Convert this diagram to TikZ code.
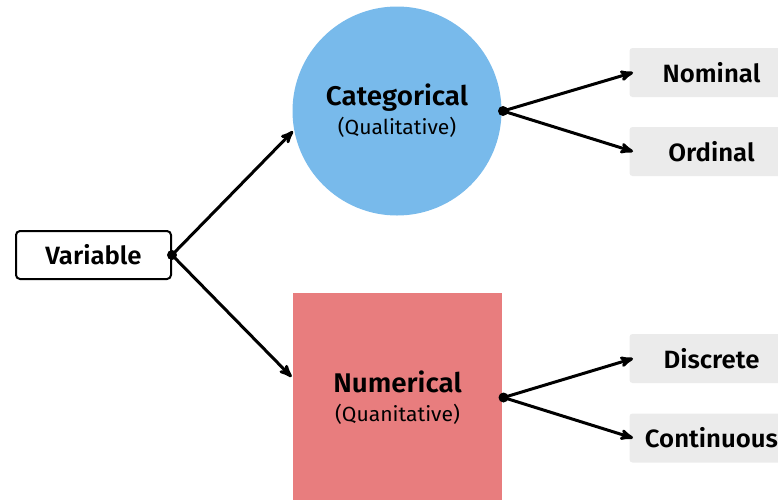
\documentclass[tikz,border=0pt]{standalone}
\usepackage{fontspec}
\setmainfont{Fira Sans}[BoldFont={Fira Sans SemiBold},FakeStretch=1.03]
\usetikzlibrary{shapes,arrows}

\definecolor{catblue}{HTML}{78BAEB}
\definecolor{numred}{HTML}{E87D7E}
\definecolor{leafgray}{HTML}{EBEBEB}

\begin{document}
\begin{tikzpicture}[->,>=stealth',x=1pt,y=-1pt,line width=3pt]
\tikzstyle{every node}=[text=black]
\tikzstyle{root}=[draw=black,line width=2pt,rounded corners=4pt,minimum width=155pt,minimum height=48pt,font=\fontsize{25}{28}\selectfont\bfseries]
\tikzstyle{group}=[inner sep=0pt,minimum size=209pt,align=center,font=\fontsize{20.5}{29}\selectfont]
\tikzstyle{leaf}=[fill=leafgray,rounded corners=3pt,minimum width=164pt,minimum height=49pt,anchor=west,font=\fontsize{25}{28}\selectfont\bfseries]
\tikzstyle{dot}=[fill=black]
\clip (0,0) rectangle (778,499);
\useasboundingbox (0,0) rectangle (778,499);
\node[root] (VA) at (93.5,255) {Variable};
\node[group,circle,fill=catblue] (CA) at (397,111)
  {{\fontsize{27}{29}\selectfont\bfseries Categorical}\\(Qualitative)};
\node[group,rectangle,fill=numred] (NU) at (397.5,397.5)
  {{\fontsize{27}{29}\selectfont\bfseries Numerical}\\(Quanitative)};
\node[leaf] (NO) at (628,72.5) {Nominal};
\node[leaf] (OR) at (628,151.5) {Ordinal};
\node[leaf] (DI) at (628,358.5) {Discrete};
\node[leaf] (CO) at (628,438) {Continuous};
\path (VA.east) edge (CA.191)
                edge (NU.169)
      (CA.east) edge ([xshift=5pt]NO.west)
                edge ([xshift=5pt]OR.west)
      (NU.east) edge ([xshift=5pt]DI.west)
                edge ([xshift=5pt]CO.west);
\fill[dot] (VA.east) circle (5pt);
\fill[dot] (CA.east) circle (5pt);
\fill[dot] (NU.east) circle (5pt);
\end{tikzpicture}
\end{document}
